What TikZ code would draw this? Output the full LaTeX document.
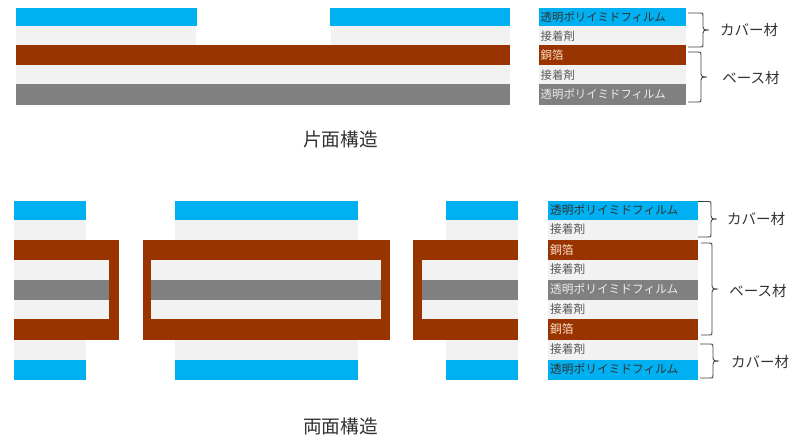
\documentclass[tikz,border=0pt]{standalone}
\usepackage{fontspec}
\setmainfont{Noto Sans CJK JP}
\tikzset{
  x=1pt,y=-1pt,
  bluelayer/.style={fill=layerblue,draw=none},
  adhlayer/.style={fill=layeradh,draw=none},
  culayer/.style={fill=layercu,draw=none},
  graylayer/.style={fill=layergray,draw=none},
  legtext/.style={anchor=west,font=\fontsize{11.4}{13}\selectfont,inner sep=0pt},
  legtextb/.style={anchor=west,font=\fontsize{11.7}{13}\selectfont,inner sep=0pt},
  lab/.style={font=\fontsize{14.5}{16}\selectfont,text=black!80,inner sep=0pt},
  ttl/.style={font=\fontsize{18.7}{20}\selectfont,text=black!80,inner sep=0pt},
  brace/.style={draw=black!75,line width=0.9pt},
}
\definecolor{layerblue}{HTML}{00B0F0}
\definecolor{layeradh}{HTML}{F2F2F2}
\definecolor{layercu}{HTML}{993300}
\definecolor{layergray}{HTML}{808080}
\colorlet{darktext}{black!80}
\colorlet{midtext}{black!65}
\colorlet{cutext}{white!80!orange}
\colorlet{graytext}{white!85!gray}
\newcommand{\mybrace}[5]{% start x, spine x, tip x, top y / mid y / bottom y
  \draw[brace] (#1,#3) -- ({#2-3},#3) .. controls (#2,#3) and (#2,#3) .. (#2,{#3+3})
    -- (#2,{#4-3}) .. controls (#2,{#4-0.5}) and ({#2+1},#4) .. ({#2+6},#4)
    .. controls ({#2+1},#4) and (#2,{#4+0.5}) .. (#2,{#4+3})
    -- (#2,{#5-3}) .. controls (#2,#5) and (#2,#5) .. ({#2-3},#5) -- (#1,#5);}
\begin{document}
\begin{tikzpicture}
\useasboundingbox (0,0) rectangle (800,442);
% single-sided structure
\fill[bluelayer] (16,8) rectangle (197,26);
\fill[bluelayer] (329.5,8) rectangle (510,26);
\fill[adhlayer] (16,26) rectangle (195.5,45);
\fill[adhlayer] (331,26) rectangle (510,45);
\fill[culayer] (16,45) rectangle (510,65);
\fill[adhlayer] (16,65) rectangle (510,84);
\fill[graylayer] (16,84) rectangle (510,104.5);
% legend 1
\fill[bluelayer] (538.5,8) rectangle (686,26);
\fill[adhlayer] (538.5,26) rectangle (686,45);
\fill[culayer] (538.5,45) rectangle (686,65);
\fill[adhlayer] (538.5,65) rectangle (686,84);
\fill[graylayer] (538.5,84) rectangle (686,104.5);
\node[legtext,text=darktext] (a1) at (540.5,17) {透明ポリイミドフィルム};
\node[legtext,text=midtext] (a2) at (540.5,36) {接着剤};
\node[legtext,text=cutext] (a3) at (540.5,55) {銅箔};
\node[legtext,text=midtext] (a4) at (540.5,75) {接着剤};
\node[legtext,text=graytext] (a5) at (540.5,94) {透明ポリイミドフィルム};
\mybrace{688}{703}{13}{30}{47}
\mybrace{688}{701}{52}{77}{102}
\node[lab] (l1) at (749,30) {カバー材};
\node[lab] (l2) at (751,78) {ベース材};
\node[ttl] (t1) at (340.5,139) {片面構造};
% double-sided structure
\foreach \xa/\xb in {14/86,175/358,446/518}{
  \fill[bluelayer] (\xa,201) rectangle (\xb,220);
  \fill[adhlayer] (\xa,220) rectangle (\xb,240);
  \fill[adhlayer] (\xa,340) rectangle (\xb,360);
  \fill[bluelayer] (\xa,360) rectangle (\xb,380);
}
\foreach \xa/\xb/\ia/\ib in {14/119/14/109,143/390/151/381,413/518/422/518}{
  \fill[culayer] (\xa,240) rectangle (\xb,340);
  \fill[adhlayer] (\ia,260) rectangle (\ib,319);
  \fill[graylayer] (\ia,280) rectangle (\ib,300);
}
% legend 2
\fill[bluelayer] (548,201) rectangle (698,220);
\fill[adhlayer] (548,220) rectangle (698,240);
\fill[culayer] (548,240) rectangle (698,260);
\fill[adhlayer] (548,260) rectangle (698,280);
\fill[graylayer] (548,280) rectangle (698,300);
\fill[adhlayer] (548,300) rectangle (698,319);
\fill[culayer] (548,319) rectangle (698,340);
\fill[adhlayer] (548,340) rectangle (698,360);
\fill[bluelayer] (548,360) rectangle (698,380);
\node[legtextb,text=darktext] (c1) at (550,210) {透明ポリイミドフィルム};
\node[legtextb,text=midtext] (c2) at (550,229.5) {接着剤};
\node[legtextb,text=cutext] (c3) at (550,250) {銅箔};
\node[legtextb,text=midtext] (c4) at (550,269.5) {接着剤};
\node[legtextb,text=graytext] (c5) at (550,289.5) {透明ポリイミドフィルム};
\node[legtextb,text=midtext] (c6) at (550,309.5) {接着剤};
\node[legtextb,text=cutext] (c7) at (550,329.5) {銅箔};
\node[legtextb,text=midtext] (c8) at (550,349.5) {接着剤};
\node[legtextb,text=darktext] (c9) at (550,369.5) {透明ポリイミドフィルム};
\mybrace{698}{711}{201.5}{219}{237}
\mybrace{701}{712}{243}{289}{335}
\mybrace{700}{713}{344}{361}{378}
\node[lab] (l3) at (756,219) {カバー材};
\node[lab] (l4) at (758,291) {ベース材};
\node[lab] (l5) at (760,362) {カバー材};
\node[ttl] (t2) at (340.5,426) {両面構造};
\end{tikzpicture}
\end{document}
